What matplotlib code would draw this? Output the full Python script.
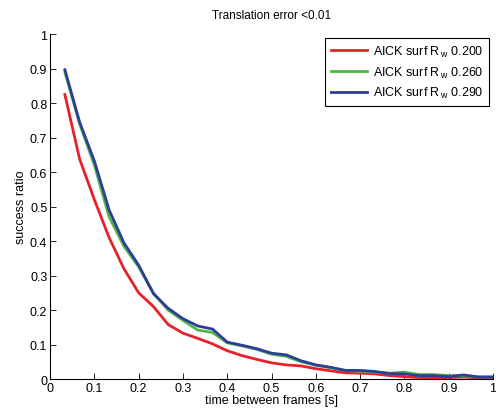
import numpy as np
import matplotlib
matplotlib.use("Agg")
import matplotlib.pyplot as plt

plt.rcParams['font.family'] = ['Liberation Sans', 'DejaVu Sans']
plt.rcParams['mathtext.fontset'] = 'custom'
plt.rcParams['mathtext.rm'] = 'Liberation Sans'

# time between frames (s)
t = np.arange(1, 31) / 30.0

rw_200 = [0.825, 0.638, 0.52, 0.41, 0.32, 0.25, 0.21, 0.158, 0.133, 0.118,
          0.102, 0.082, 0.068, 0.057, 0.047, 0.041, 0.038, 0.03, 0.024, 0.018,
          0.017, 0.015, 0.01, 0.007, 0.004, 0.004, 0.004, 0.006, 0.003, 0.003]
rw_260 = [0.89, 0.74, 0.62, 0.47, 0.385, 0.325, 0.248, 0.2, 0.17, 0.142,
          0.135, 0.105, 0.096, 0.086, 0.072, 0.066, 0.05, 0.04, 0.033, 0.025,
          0.022, 0.02, 0.017, 0.02, 0.013, 0.013, 0.01, 0.01, 0.006, 0.006]
rw_290 = [0.897, 0.745, 0.632, 0.49, 0.395, 0.33, 0.248, 0.205, 0.175, 0.154,
          0.145, 0.107, 0.098, 0.088, 0.075, 0.07, 0.053, 0.041, 0.034, 0.025,
          0.025, 0.022, 0.016, 0.015, 0.01, 0.01, 0.007, 0.012, 0.006, 0.006]

labels = [r'AICK surf R$_{\,\mathrm{w}}$ 0.200',
          r'AICK surf R$_{\,\mathrm{w}}$ 0.260',
          r'AICK surf R$_{\,\mathrm{w}}$ 0.290']
colors = ['#e8202a', '#4fb748', '#2e3e98']

fig = plt.figure(figsize=(4.96, 4.14), dpi=100)
ax = fig.add_axes([0.101, 0.082, 0.893, 0.833])

for y, lab, c in zip([rw_200, rw_260, rw_290], labels, colors):
    ax.plot(t, y, color=c, lw=2.0, label=lab)

ax.set_xlim(0, 1)
ax.set_ylim(0, 1)
ax.set_xticks(np.arange(0, 1.01, 0.1))
ax.set_yticks(np.arange(0, 1.01, 0.1))
ax.set_xticklabels(['0', '0.1', '0.2', '0.3', '0.4', '0.5', '0.6', '0.7', '0.8', '0.9', '1'])
ax.set_yticklabels(['0', '0.1', '0.2', '0.3', '0.4', '0.5', '0.6', '0.7', '0.8', '0.9', '1'])
ax.tick_params(direction='in', length=4, width=0.6, labelsize=9, pad=2)
for s in ['top', 'right']:
    ax.spines[s].set_visible(False)
for s in ['left', 'bottom']:
    ax.spines[s].set_linewidth(0.8)

ax.set_xlabel('time between frames [s]', fontsize=9, labelpad=0)
ax.set_ylabel('success ratio', fontsize=9, labelpad=2)
ax.set_title('Translation error <0.01', fontsize=8.5, pad=12)

leg = ax.legend(loc='upper right', bbox_to_anchor=(0.997, 0.996), fontsize=9,
                fancybox=False, edgecolor='black', framealpha=1,
                handlelength=2.9, borderpad=0.45, labelspacing=0.45,
                handletextpad=0.5, borderaxespad=0.2)
leg.get_frame().set_linewidth(0.8)

fig.savefig('out.png', dpi=100)
